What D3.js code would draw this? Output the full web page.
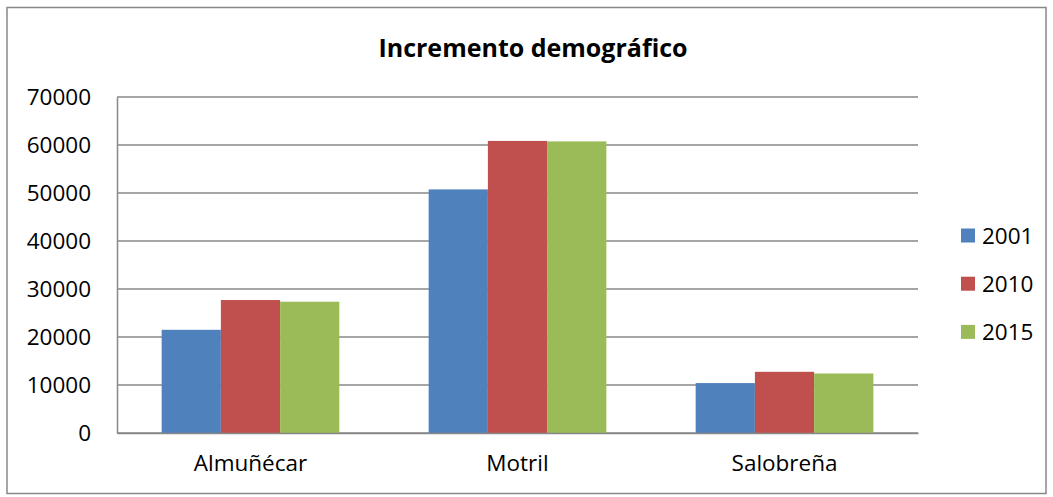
<!DOCTYPE html>
<html>
<head>
<meta charset="utf-8">
<script src="https://cdn.jsdelivr.net/npm/d3@7"></script>
<style>
  body { margin: 0; background: #fff; }
  text { font-family: "Open Sans", "Noto Sans", sans-serif; fill: #000; }
</style>
</head>
<body>
<div id="chart"></div>
<script>
var width = 1053;
var height = 497;

// data
var towns = ["Almuñécar", "Motril", "Salobreña"];
var years = ["2001", "2010", "2015"];
var pop2001 = [21500, 50750, 10400];
var pop2010 = [27700, 60850, 12750];
var pop2015 = [27350, 60750, 12400];
var yTicks = [0, 10000, 20000, 30000, 40000, 50000, 60000, 70000];

var colors = ["#4F81BD", "#C0504D", "#9BBB59"];
var series = [pop2001, pop2010, pop2015];

var margin = { top: 97, left: 117, right: 135, bottom: 64 };

var svg = d3.select("#chart")
  .append("svg")
  .attr("width", width)
  .attr("height", height);

svg.append("rect")
  .attr("width", width)
  .attr("height", height)
  .attr("fill", "white");

// outer chart border
svg.append("rect")
  .attr("x", 7)
  .attr("y", 7.5)
  .attr("width", 1039)
  .attr("height", 486)
  .attr("fill", "none")
  .attr("stroke", "#888")
  .attr("stroke-width", 1.5);

var x = d3.scaleBand()
  .domain(towns)
  .range([margin.left, width - margin.right])
  .paddingInner(0.3345)
  .paddingOuter(0.1672);

var xs = d3.scaleBand()
  .domain(years)
  .range([0, x.bandwidth()]);

var y = d3.scaleLinear()
  .domain([0, 70000])
  .range([height - margin.bottom, margin.top]);

// gridlines
svg.append("g")
  .attr("class", "grid")
  .selectAll("line")
  .data(yTicks)
  .enter()
  .append("line")
  .attr("x1", margin.left)
  .attr("x2", width - margin.right)
  .attr("y1", function(d) { return y(d); })
  .attr("y2", function(d) { return y(d); })
  .attr("stroke", "#888")
  .attr("stroke-width", 1.5);

// bars
var rows = towns.map(function(t, i) {
  return years.map(function(yr, j) {
    return { town: t, year: yr, value: series[j][i], color: colors[j] };
  });
});

svg.append("g")
  .selectAll("g")
  .data(rows)
  .enter()
  .append("g")
  .attr("transform", function(d) { return "translate(" + x(d[0].town) + ",0)"; })
  .selectAll("rect")
  .data(function(d) { return d; })
  .enter()
  .append("rect")
  .attr("x", function(d) { return xs(d.year); })
  .attr("width", xs.bandwidth())
  .attr("y", function(d) { return y(d.value); })
  .attr("height", function(d) { return y(0) - y(d.value); })
  .attr("fill", function(d) { return d.color; });

// y axis
var yAxis = d3.axisLeft(y).tickValues(yTicks).tickSize(0).tickPadding(26).tickFormat(d3.format("d"));
var gy = svg.append("g")
  .attr("transform", "translate(" + margin.left + ",0)")
  .call(yAxis);
gy.select(".domain").attr("stroke", "#888").attr("stroke-width", 1.5);
gy.selectAll("text").style("font-size", "22.5px").attr("fill", "#000");

// x axis
var xAxis = d3.axisBottom(x).tickSize(0).tickPadding(22);
var gx = svg.append("g")
  .attr("transform", "translate(0," + y(0) + ")")
  .call(xAxis);
gx.select(".domain").attr("stroke", "#888").attr("stroke-width", 1.5);
gx.selectAll("text").style("font-size", "22.5px").attr("fill", "#000");

// title
svg.append("text")
  .attr("x", 533)
  .attr("y", 47)
  .attr("text-anchor", "middle")
  .attr("dominant-baseline", "central")
  .style("font-size", "25px")
  .style("font-weight", "bold")
  .text("Incremento demográfico");

// legend
var legend = svg.append("g")
  .attr("transform", "translate(961,0)")
  .selectAll("g")
  .data(years)
  .enter()
  .append("g")
  .attr("transform", function(d, i) { return "translate(0," + (235.5 + i * 48.2) + ")"; });

legend.append("rect")
  .attr("y", -7)
  .attr("width", 14)
  .attr("height", 14)
  .attr("fill", function(d, i) { return colors[i]; });

legend.append("text")
  .attr("x", 21)
  .attr("dominant-baseline", "central")
  .style("font-size", "22.5px")
  .text(function(d) { return d; });
</script>
</body>
</html>
